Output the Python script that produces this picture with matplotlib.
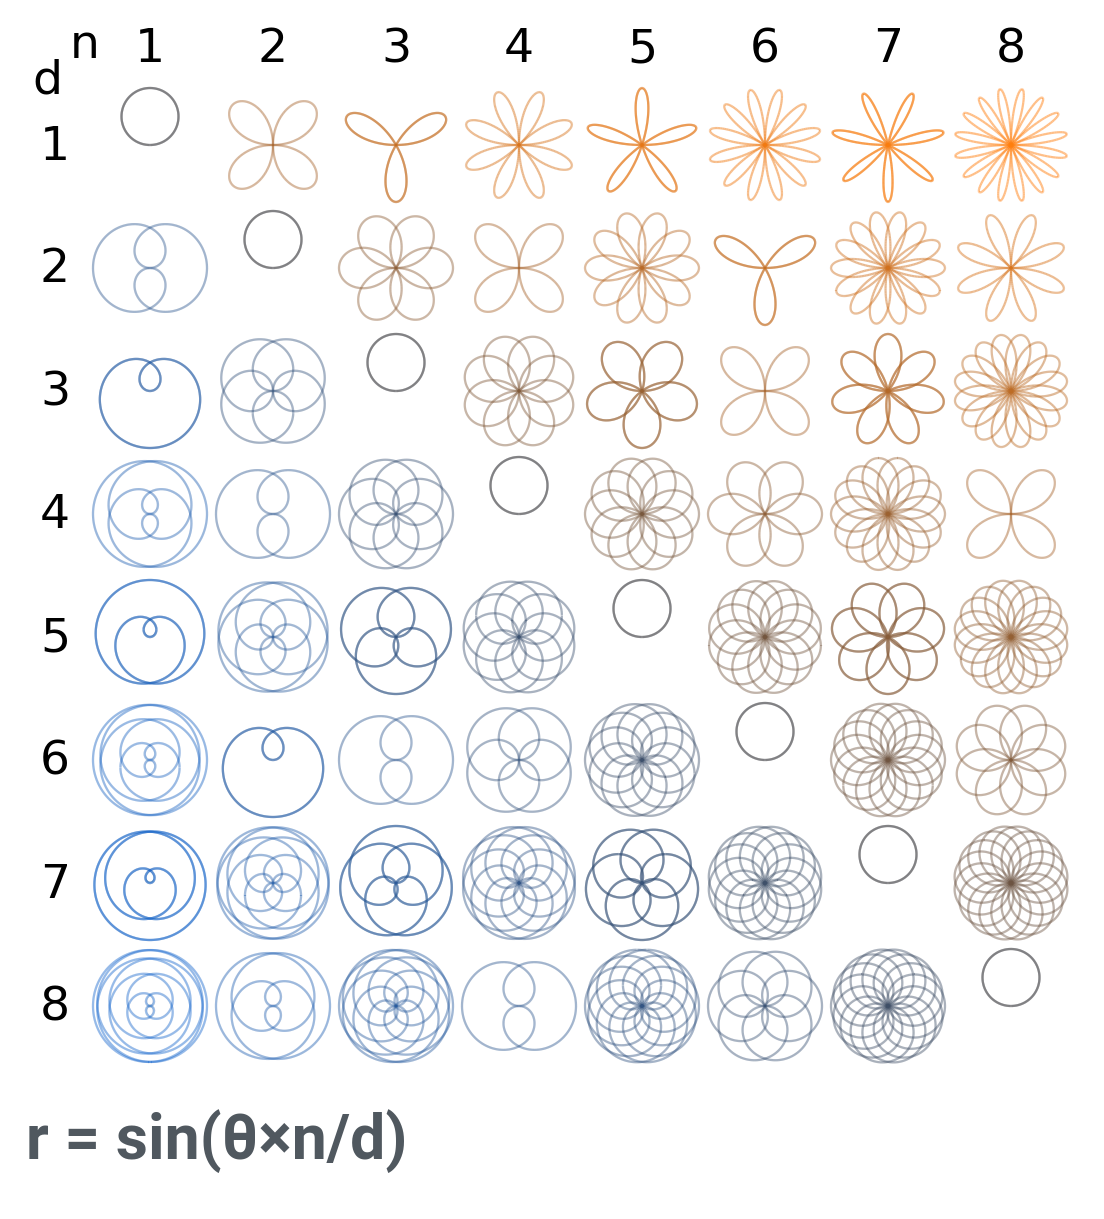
import math
import numpy as np
import matplotlib
matplotlib.use("Agg")
import matplotlib.pyplot as plt
from matplotlib.colors import to_rgb
from matplotlib.collections import LineCollection

# grid of rose curves r = sin(theta * n / d)
n_values = [1, 2, 3, 4, 5, 6, 7, 8]
d_values = [1, 2, 3, 4, 5, 6, 7, 8]
col_labels = ["1", "2", "3", "4", "5", "6", "7", "8"]
row_labels = ["1", "2", "3", "4", "5", "6", "7", "8"]
title_text = "r = sin(θ×n/d)"

W, H = 1104, 1219
fig = plt.figure(figsize=(W / 100, H / 100), dpi=100)

blue = np.array(to_rgb("#1265cf"))
grey = np.array(to_rgb("#4a4a4e"))
orange = np.array(to_rgb("#ff7f0e"))


def curve_colour(n, d):
    # log ratio in [-1, 1]: -1 -> blue, 0 -> grey, 1 -> orange
    t = math.log(n / d) / math.log(8)
    s = abs(t) ** 0.6
    end = orange if t >= 0 else blue
    return tuple(grey * (1 - s) + end * s)


# cell layout in pixels
x0, y0, step = 150, 145, 123
radius_px = 57
lim = (step / 2) / radius_px

for i, d in enumerate(d_values):
    for j, n in enumerate(n_values):
        # trace over 2*pi*q (q = reduced denominator); odd p*q curves get drawn twice
        g = math.gcd(n, d)
        q = d // g
        theta = np.linspace(0, 2 * np.pi * q, 700 * q)
        r = np.sin(theta * n / d)
        pts = np.column_stack([r * np.cos(theta), r * np.sin(theta)])
        segs = np.stack([pts[:-1], pts[1:]], axis=1)
        xc = x0 + j * step
        yc = y0 + i * step
        ax = fig.add_axes([(xc - step / 2) / W, 1 - (yc + step / 2) / H,
                           step / W, step / H])
        # separate segments so overlapping strokes build up darker
        ax.add_collection(LineCollection(segs, colors=[curve_colour(n, d)],
                                         linewidths=1.6, alpha=0.5))
        ax.set_xlim(-lim, lim)
        ax.set_ylim(-lim, lim)
        ax.set_aspect("equal")
        ax.axis("off")

# column and row labels
for j, lab in enumerate(col_labels):
    fig.text((x0 + j * step) / W, 1 - 50 / H, lab, fontsize=34,
             ha="center", va="center")
for i, lab in enumerate(row_labels):
    fig.text(55 / W, 1 - (y0 + 2 + i * step) / H, lab, fontsize=34,
             ha="center", va="center")

fig.text(85 / W, 1 - 46 / H, "n", fontsize=34, ha="center", va="center")
fig.text(47 / W, 1 - 81 / H, "d", fontsize=34, ha="center", va="center")

fig.text(26 / W, 1 - 1141 / H, title_text, fontsize=45, fontweight="bold",
         family="Roboto", color="#50585f", ha="left", va="center")

fig.savefig("out.png", dpi=100)
